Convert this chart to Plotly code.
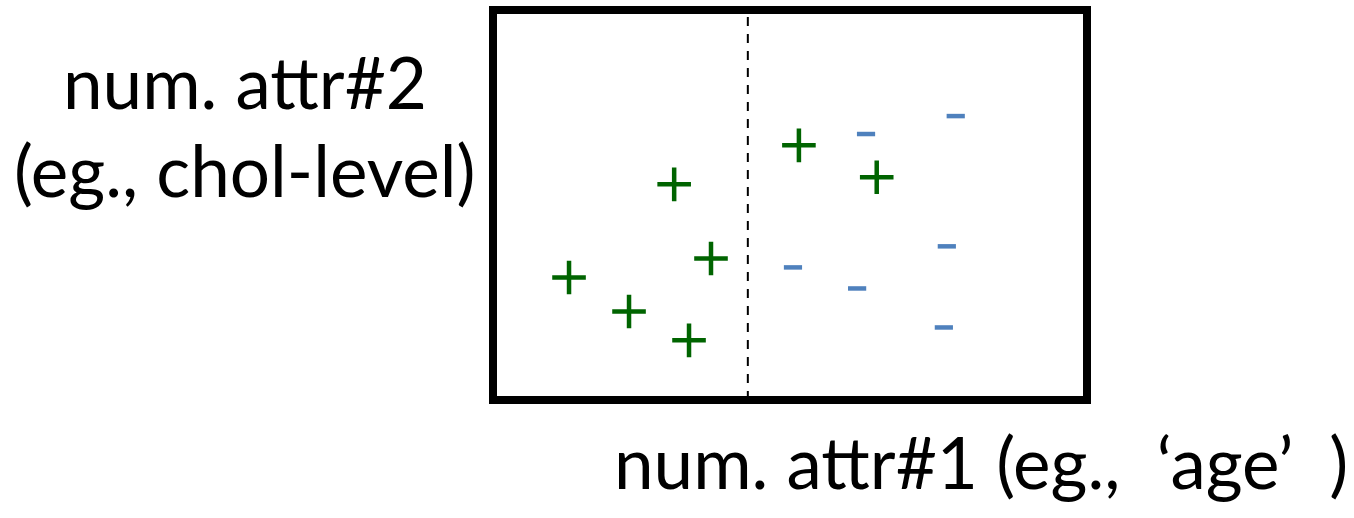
import plotly.graph_objects as go

# ---- data (arbitrary units, 0-100 on both axes) ----
pos_x = [12.8, 22.9, 33.0, 30.5, 36.7, 51.5, 64.6]
pos_y = [31.4, 22.7, 15.3, 55.3, 36.3, 65.3, 57.1]
neg_x = [62.8, 77.9, 76.4, 50.5, 61.3, 75.9]
neg_y = [68.2, 72.8, 39.4, 34.0, 28.6, 18.6]
split_x = 42.9
x_label = "num. attr#1 (eg.,\u00a0 \u2018age\u2019\u00a0 )"
y_label_lines = ["num. attr#2", "(eg., chol-level)"]

W, H = 1354, 518
L, R, T, B = 493, 267, 10, 118
PW, PH = W - L - R, H - T - B

def px_x(p):
    return (p - L) / PW

def px_y(p):
    return (H - B - p) / PH

FONT = "Lato"
FS = 71

fig = go.Figure()
fig.add_trace(go.Scatter(
    x=pos_x, y=pos_y, mode="markers",
    marker=dict(symbol="cross-thin", size=24, color="#006400",
                line=dict(color="#006400", width=4.5)),
    showlegend=False, hoverinfo="skip"))
fig.add_trace(go.Scatter(
    x=neg_x, y=neg_y, mode="markers",
    marker=dict(symbol="line-ew", size=13, color="#4F81BD",
                line=dict(color="#4F81BD", width=4.5)),
    showlegend=False, hoverinfo="skip"))

fig.add_shape(type="line", xref="x", yref="paper", x0=split_x, x1=split_x,
              y0=0, y1=1, line=dict(color="black", width=2, dash="9px,8px"))
fig.add_shape(type="rect", xref="paper", yref="paper", x0=0, x1=1, y0=0, y1=1,
              line=dict(color="black", width=8), layer="above")

for txt, top in zip(y_label_lines, [37, 125]):
    fig.add_annotation(text=txt, xref="paper", yref="paper",
                       x=px_x(245), y=px_y(top), xanchor="center", yanchor="top",
                       showarrow=False, font=dict(family=FONT, size=FS, color="black"))
fig.add_annotation(text=x_label, xref="paper", yref="paper",
                   x=px_x(981), y=px_y(417), xanchor="center", yanchor="top",
                   showarrow=False, font=dict(family=FONT, size=FS, color="black"))

fig.update_xaxes(range=[0, 100], visible=False)
fig.update_yaxes(range=[0, 100], visible=False)
fig.update_layout(width=W, height=H, margin=dict(l=L, r=R, t=T, b=B),
                  plot_bgcolor="white", paper_bgcolor="white")
fig.write_html("out.html", config={"displayModeBar": False},
               post_script="document.body.style.margin='0';document.body.style.overflow='hidden';")
